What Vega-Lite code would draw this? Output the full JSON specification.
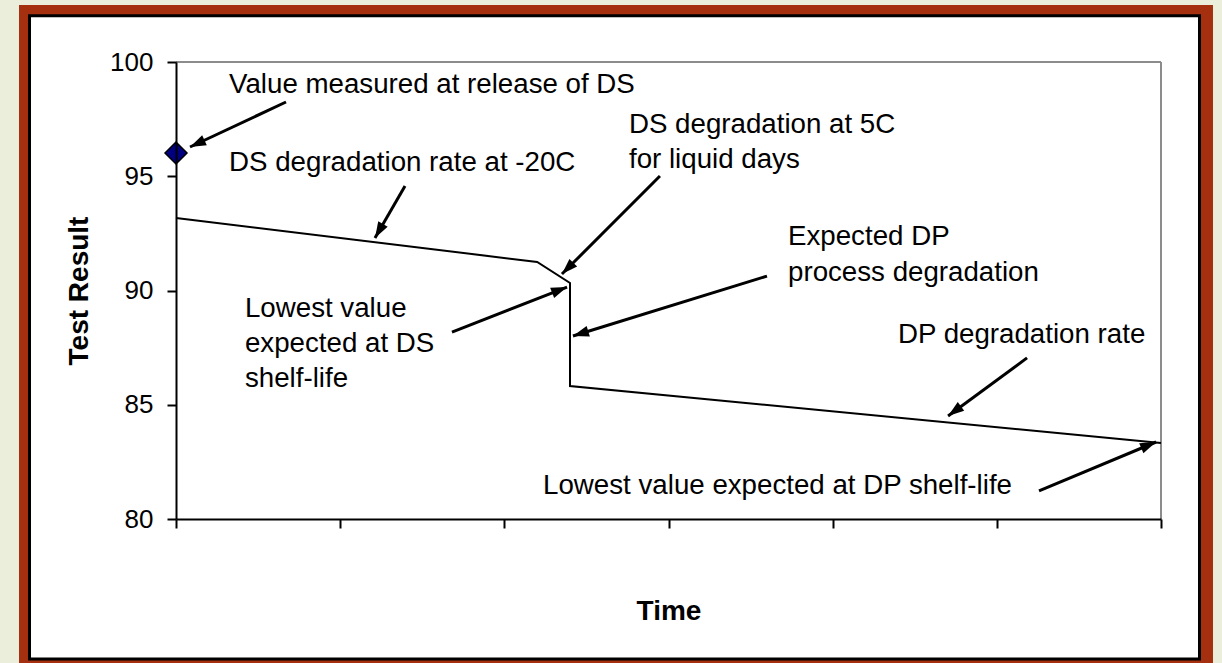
{
  "$schema": "https://vega.github.io/schema/vega-lite/v6.json",
  "width": 985,
  "height": 457,
  "autosize": {"type": "none"},
  "padding": {"left": 176, "top": 62, "right": 61, "bottom": 144},
  "background": "#EAEEDA",
  "config": {
    "view": {"stroke": null},
    "font": "Liberation Sans",
    "axis": {
      "grid": false, "domainColor": "black", "domainWidth": 2, "tickColor": "black", "tickWidth": 2, "tickSize": 9,
      "labelFont": "Liberation Sans", "labelFontSize": 26, "labelColor": "black",
      "titleFont": "Liberation Sans", "titleFontSize": 28, "titleFontWeight": "bold", "titleColor": "black"
    },
    "axisX": {"labels": false, "titlePadding": 68},
    "axisY": {"labelPadding": 14, "titlePadding": 16}
  },
  "datasets": {
    "line": [
      {"i": 1, "t": 0, "v": 93.17},
      {"i": 2, "t": 22.0, "v": 91.25},
      {"i": 3, "t": 24.0, "v": 90.33},
      {"i": 4, "t": 24.0, "v": 85.82},
      {"i": 5, "t": 60, "v": 83.33}
    ],
    "release": [{"t": 0, "v": 96.02}],
    "arrows": [
      {"x": 6.70, "y": 98.25, "x2": 0.853, "y2": 96.28, "a": 244.9},
      {"x": 13.95, "y": 94.57, "x2": 12.12, "y2": 92.30, "a": 210},
      {"x": 29.48, "y": 95.01, "x2": 23.51, "y2": 90.72, "a": 225},
      {"x": 16.81, "y": 88.18, "x2": 23.82, "y2": 90.15, "a": 68.6},
      {"x": 36.0, "y": 90.63, "x2": 24.18, "y2": 88.01, "a": 252.8},
      {"x": 51.84, "y": 87.05, "x2": 47.03, "y2": 84.51, "a": 233.7},
      {"x": 52.57, "y": 81.23, "x2": 59.70, "y2": 83.37, "a": 67.3}
    ],
    "notes": [
      {"label": "Value measured at release of DS", "x": 3.23, "y": 98.64},
      {"label": "DS degradation rate at -20C", "x": 3.23, "y": 95.23},
      {"label": "DS degradation at 5C", "x": 27.59, "y": 96.89},
      {"label": "for liquid days", "x": 27.59, "y": 95.36},
      {"label": "Expected DP", "x": 37.28, "y": 91.99},
      {"label": "process degradation", "x": 37.28, "y": 90.42},
      {"label": "Lowest value", "x": 4.20, "y": 88.84},
      {"label": "expected at DS", "x": 4.20, "y": 87.30},
      {"label": "shelf-life", "x": 4.20, "y": 85.76},
      {"label": "DP degradation rate", "x": 43.98, "y": 87.70},
      {"label": "Lowest value expected at DP shelf-life", "x": 22.36, "y": 81.09}
    ]
  },
  "layer": [
    {
      "data": {"values": [{}]},
      "mark": {"type": "rect", "fill": "#A4300F"},
      "encoding": {
        "x": {"datum": -9.563, "type": "quantitative", "scale": {"domain": [0, 60], "nice": false, "zero": false}, "axis": {"title": "Time", "values": [0, 10, 20, 30, 40, 50, 60], "zindex": 1}},
        "x2": {"datum": 63.167},
        "y": {"datum": 102.494, "type": "quantitative", "scale": {"domain": [80, 100], "nice": false, "zero": false}, "axis": {"title": "Test Result", "values": [80, 85, 90, 95, 100], "zindex": 1}},
        "y2": {"datum": 73.39}
      }
    },
    {
      "data": {"values": [{}]},
      "mark": {"type": "rect", "fill": "white", "stroke": "black", "strokeWidth": 3},
      "encoding": {
        "x": {"datum": -8.924, "type": "quantitative", "scale": {"domain": [0, 60], "nice": false, "zero": false}, "axis": {"title": "Time", "values": [0, 10, 20, 30, 40, 50, 60], "zindex": 1}},
        "x2": {"datum": 62.345},
        "y": {"datum": 102.02, "type": "quantitative", "scale": {"domain": [80, 100], "nice": false, "zero": false}, "axis": {"title": "Test Result", "values": [80, 85, 90, 95, 100], "zindex": 1}},
        "y2": {"datum": 73.873}
      }
    },
    {
      "data": {"values": [{}]},
      "mark": {"type": "rule", "color": "#8c8c8c", "strokeWidth": 2},
      "encoding": {
        "x": {"datum": 0, "type": "quantitative", "scale": {"domain": [0, 60], "nice": false, "zero": false}, "axis": {"title": "Time", "values": [0, 10, 20, 30, 40, 50, 60], "zindex": 1}},
        "x2": {"datum": 60},
        "y": {"datum": 100, "type": "quantitative", "scale": {"domain": [80, 100], "nice": false, "zero": false}, "axis": {"title": "Test Result", "values": [80, 85, 90, 95, 100], "zindex": 1}}
      }
    },
    {
      "data": {"values": [{}]},
      "mark": {"type": "rule", "color": "#8c8c8c", "strokeWidth": 2},
      "encoding": {
        "x": {"datum": 60, "type": "quantitative", "scale": {"domain": [0, 60], "nice": false, "zero": false}, "axis": {"title": "Time", "values": [0, 10, 20, 30, 40, 50, 60], "zindex": 1}},
        "y": {"datum": 80, "type": "quantitative", "scale": {"domain": [80, 100], "nice": false, "zero": false}, "axis": {"title": "Test Result", "values": [80, 85, 90, 95, 100], "zindex": 1}},
        "y2": {"datum": 100}
      }
    },
    {
      "data": {"name": "line"},
      "mark": {"type": "line", "color": "black", "strokeWidth": 2},
      "encoding": {
        "x": {"field": "t", "type": "quantitative", "scale": {"domain": [0, 60], "nice": false, "zero": false}, "axis": {"title": "Time", "values": [0, 10, 20, 30, 40, 50, 60], "zindex": 1}},
        "y": {"field": "v", "type": "quantitative", "scale": {"domain": [80, 100], "nice": false, "zero": false}, "axis": {"title": "Test Result", "values": [80, 85, 90, 95, 100], "zindex": 1}},
        "order": {"field": "i", "type": "quantitative"}
      }
    },
    {
      "data": {"name": "arrows"},
      "mark": {"type": "rule", "color": "black", "strokeWidth": 3},
      "encoding": {
        "x": {"field": "x", "type": "quantitative", "scale": {"domain": [0, 60], "nice": false, "zero": false}, "axis": {"title": "Time", "values": [0, 10, 20, 30, 40, 50, 60], "zindex": 1}},
        "y": {"field": "y", "type": "quantitative", "scale": {"domain": [80, 100], "nice": false, "zero": false}, "axis": {"title": "Test Result", "values": [80, 85, 90, 95, 100], "zindex": 1}},
        "x2": {"field": "x2"},
        "y2": {"field": "y2"}
      }
    },
    {
      "data": {"name": "arrows"},
      "mark": {"type": "point", "filled": true, "shape": "M0,0L0.34,1L-0.34,1Z", "size": 1024, "color": "black", "opacity": 1, "strokeWidth": 0},
      "encoding": {
        "x": {"field": "x2", "type": "quantitative", "scale": {"domain": [0, 60], "nice": false, "zero": false}, "axis": {"title": "Time", "values": [0, 10, 20, 30, 40, 50, 60], "zindex": 1}},
        "y": {"field": "y2", "type": "quantitative", "scale": {"domain": [80, 100], "nice": false, "zero": false}, "axis": {"title": "Test Result", "values": [80, 85, 90, 95, 100], "zindex": 1}},
        "angle": {"field": "a", "type": "quantitative", "scale": null}
      }
    },
    {
      "data": {"name": "release"},
      "mark": {"type": "point", "shape": "diamond", "size": 484, "filled": true, "fill": "#000080", "stroke": "black", "strokeWidth": 1.5, "opacity": 1},
      "encoding": {
        "x": {"field": "t", "type": "quantitative", "scale": {"domain": [0, 60], "nice": false, "zero": false}, "axis": {"title": "Time", "values": [0, 10, 20, 30, 40, 50, 60], "zindex": 1}},
        "y": {"field": "v", "type": "quantitative", "scale": {"domain": [80, 100], "nice": false, "zero": false}, "axis": {"title": "Test Result", "values": [80, 85, 90, 95, 100], "zindex": 1}}
      }
    },
    {
      "data": {"name": "notes"},
      "mark": {"type": "text", "align": "left", "baseline": "alphabetic", "font": "Liberation Sans", "fontSize": 27.7, "color": "black"},
      "encoding": {
        "x": {"field": "x", "type": "quantitative", "scale": {"domain": [0, 60], "nice": false, "zero": false}, "axis": {"title": "Time", "values": [0, 10, 20, 30, 40, 50, 60], "zindex": 1}},
        "y": {"field": "y", "type": "quantitative", "scale": {"domain": [80, 100], "nice": false, "zero": false}, "axis": {"title": "Test Result", "values": [80, 85, 90, 95, 100], "zindex": 1}},
        "text": {"field": "label", "type": "nominal"}
      }
    }
  ]
}
